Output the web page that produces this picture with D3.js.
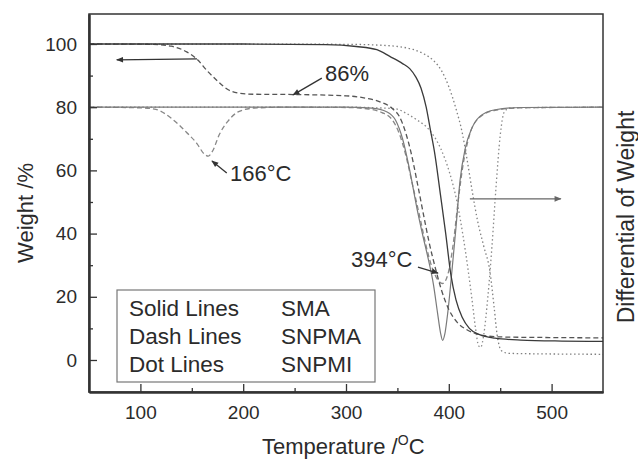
<!DOCTYPE html>
<html>
<head>
<meta charset="utf-8">
<script src="https://cdn.jsdelivr.net/npm/d3@7"></script>
<style>
  body { margin: 0; background: #fff; }
  svg { display: block; font-family: "Liberation Sans", Arial, sans-serif; }
</style>
</head>
<body>
<svg id="chart" width="638" height="459"></svg>
<script>
// TG curves (weight %) and DTG curves (drawn on the same scale, baseline at 80)
var tgSMA = [[50,100],[200,100],[280,99.8],[310,99.2],[330,98.2],[343,96],[355,93.8],[362,92.2],[368,89.5],[373,86],[378,80],[382,73],[386,66],[392,52],[397,40],[402,27],[407,19],[413,13.5],[420,10],[430,8],[445,6.9],[470,6.3],[510,6],[550,5.9]];
var tgSNPMA = [[50,100],[110,99.9],[130,99.3],[145,97.5],[155,95.2],[165,91.5],[175,88.3],[185,85.6],[195,84.5],[210,84.1],[250,84],[300,83.6],[320,82.8],[333,81.7],[345,79.6],[352,77],[358,72],[363,66],[370,55],[376,45],[381,37],[387,29],[393,22],[400,16],[408,12],[418,9.5],[430,8],[450,7.3],[500,7.1],[550,7]];
var tgSNPMI = [[50,100],[300,99.9],[340,99.5],[355,99],[365,98.3],[375,97],[385,94.8],[393,91.5],[400,86.5],[407,79.5],[413,72],[418,63],[423,53],[428,44],[434,36],[440,28],[444,17],[447,8],[451,3],[458,2.1],[500,1.9],[550,1.8]];

var dtgSMA = [[50,80],[300,80],[325,79.7],[340,78.5],[348,76],[355,70],[362,60],[369,48],[375,39],[380,32],[385,24],[389,15],[392,8.5],[394,6.2],[396,8],[399,15],[403,28],[407,42],[411,57],[416,67],[422,73],[430,77],[445,79.2],[470,79.9],[550,80]];
var dtgSNPMA = [[50,80],[100,79.8],[115,79.3],[130,76.5],[145,72],[155,68.5],[162,65.2],[166,64.5],[170,66],[177,71.5],[185,75.5],[195,78.5],[210,79.7],[240,80],[300,79.9],[320,79.5],[335,78.3],[345,76],[352,71.5],[358,65],[365,55],[372,45],[378,36],[384,29],[389,25.5],[394,24.2],[399,27],[404,36],[409,50],[414,62],[420,71],[430,76.8],[445,79],[470,79.8],[550,80]];
var dtgSNPMI = [[50,80],[300,80],[330,79.8],[348,79.5],[360,77.8],[369,76],[381,72.8],[392,67],[401,59],[408,50],[414,39],[419,28],[423,18],[426,10],[429,4.5],[431,4],[434,8],[438,20],[442,36],[446,55],[450,71],[454,78.5],[460,79.8],[550,80]];

var xMajor = [100, 200, 300, 400, 500];
var xMinor = [150, 250, 350, 450];
var yMajor = [0, 20, 40, 60, 80, 100];
var yMinor = [10, 30, 50, 70, 90];

var legendRows = [
  ["Solid Lines", "SMA"],
  ["Dash Lines", "SNPMA"],
  ["Dot Lines", "SNPMI"]
];

var svg = d3.select("#chart");
var textColor = "#2b2b2b";

var x = d3.scaleLinear().domain([50, 550]).range([89, 603]);
var y = d3.scaleLinear().domain([-10.13, 109.49]).range([392, 14]);

// arrow heads
var defs = svg.append("defs");
function addMarker(id, color) {
  defs.append("marker")
      .attr("id", id)
      .attr("viewBox", "0 0 10 10")
      .attr("refX", 9)
      .attr("refY", 5)
      .attr("markerWidth", 9)
      .attr("markerHeight", 7)
      .attr("markerUnits", "userSpaceOnUse")
      .attr("orient", "auto")
    .append("path")
      .attr("d", "M0,1 L10,5 L0,9 Z")
      .attr("fill", color);
}
addMarker("headDark", "#333");
addMarker("headGray", "#666");

var line = d3.line()
    .x(function (d) { return x(d[0]); })
    .y(function (d) { return y(d[1]); })
    .curve(d3.curveMonotoneX);

var plot = svg.append("g");
plot.append("clipPath").attr("id", "clip")
  .append("rect").attr("x", 89).attr("y", 14).attr("width", 514).attr("height", 378);

var curves = plot.append("g").attr("clip-path", "url(#clip)").attr("fill", "none");

// DTG (lighter) first, TG on top
curves.append("path").datum(dtgSNPMI).attr("d", line)
    .attr("stroke", "#8a8a8a").attr("stroke-width", 1.3).attr("stroke-dasharray", "1.5,2.6");
curves.append("path").datum(dtgSNPMA).attr("d", line)
    .attr("stroke", "#888").attr("stroke-width", 1.3).attr("stroke-dasharray", "5,3");
curves.append("path").datum(dtgSMA).attr("d", line)
    .attr("stroke", "#7a7a7a").attr("stroke-width", 1.2);
curves.append("path").datum(tgSNPMI).attr("d", line)
    .attr("stroke", "#808080").attr("stroke-width", 1.3).attr("stroke-dasharray", "1.5,2.6");
curves.append("path").datum(tgSNPMA).attr("d", line)
    .attr("stroke", "#555").attr("stroke-width", 1.3).attr("stroke-dasharray", "5,3");
curves.append("path").datum(tgSMA).attr("d", line)
    .attr("stroke", "#3a3a3a").attr("stroke-width", 1.3);

// frame
plot.append("rect")
    .attr("x", 89).attr("y", 14).attr("width", 514).attr("height", 378)
    .attr("fill", "none").attr("stroke", "#333").attr("stroke-width", 1.5);

// axes with inward ticks
svg.append("g").attr("transform", "translate(0,392)")
    .call(d3.axisBottom(x).tickValues(xMajor).tickSizeInner(-8).tickSizeOuter(0).tickPadding(14));
svg.append("g").attr("transform", "translate(0,392)")
    .call(d3.axisBottom(x).tickValues(xMinor).tickSizeInner(-4).tickSizeOuter(0).tickFormat(""));
svg.append("g").attr("transform", "translate(89,0)")
    .call(d3.axisLeft(y).tickValues(yMajor).tickSizeInner(-8).tickSizeOuter(0).tickPadding(12));
svg.append("g").attr("transform", "translate(89,0)")
    .call(d3.axisLeft(y).tickValues(yMinor).tickSizeInner(-4).tickSizeOuter(0).tickFormat(""));

svg.selectAll(".domain").attr("stroke", "#333").attr("stroke-width", 2);
svg.selectAll(".tick line").attr("stroke", "#333").attr("stroke-width", 1.3);
svg.selectAll(".tick text")
    .attr("font-family", "Liberation Sans, Arial, sans-serif")
    .attr("font-size", 19).attr("fill", textColor);

// axis titles
var xTitle = svg.append("text")
    .attr("x", 262).attr("y", 454)
    .attr("font-size", 22).attr("fill", textColor);
xTitle.append("tspan").text("Temperature /");
xTitle.append("tspan").attr("font-size", 14).attr("dy", -9).text("O");
xTitle.append("tspan").attr("dy", 9).text("C");

svg.append("text")
    .attr("transform", "translate(33,213) rotate(-90)")
    .attr("text-anchor", "middle")
    .attr("font-size", 22).attr("fill", textColor)
    .text("Weight /%");

svg.append("text")
    .attr("transform", "translate(634,217) rotate(-90)")
    .attr("text-anchor", "middle")
    .attr("font-size", 23).attr("fill", textColor)
    .text("Differential of Weight");

// annotations (endpoints in data units)
function arrow(t1, v1, t2, v2, color, marker) {
  svg.append("line")
      .attr("x1", x(t1)).attr("y1", y(v1)).attr("x2", x(t2)).attr("y2", y(v2))
      .attr("stroke", color).attr("stroke-width", 1.3)
      .attr("marker-end", "url(#" + marker + ")");
}
arrow(155, 95.3, 77, 95, "#333", "headDark");
arrow(420.5, 51, 509, 51, "#666", "headGray");
arrow(276.5, 89.2, 248.5, 83.9, "#333", "headDark");
arrow(184, 59.2, 169.6, 63, "#333", "headDark");
arrow(370, 29.4, 389.5, 27.5, "#333", "headDark");

function label(xp, yp, parts) {
  var t = svg.append("text").attr("x", xp).attr("y", yp)
      .attr("font-size", 22).attr("fill", textColor);
  parts.forEach(function (p) { t.append("tspan").text(p); });
}
label(325, 81, ["86%"]);
label(230, 181, ["166°C"]);
label(351, 267, ["394°C"]);

// legend box
svg.append("rect")
    .attr("x", 117).attr("y", 290).attr("width", 258).attr("height", 92)
    .attr("fill", "#fff").attr("stroke", "#777").attr("stroke-width", 1.2);
legendRows.forEach(function (r, i) {
  svg.append("text").attr("x", 129).attr("y", 316 + i * 28)
      .attr("font-size", 22.5).attr("fill", textColor).text(r[0]);
  svg.append("text").attr("x", 281).attr("y", 316 + i * 28)
      .attr("font-size", 22.5).attr("fill", textColor).text(r[1]);
});
</script>
</body>
</html>
